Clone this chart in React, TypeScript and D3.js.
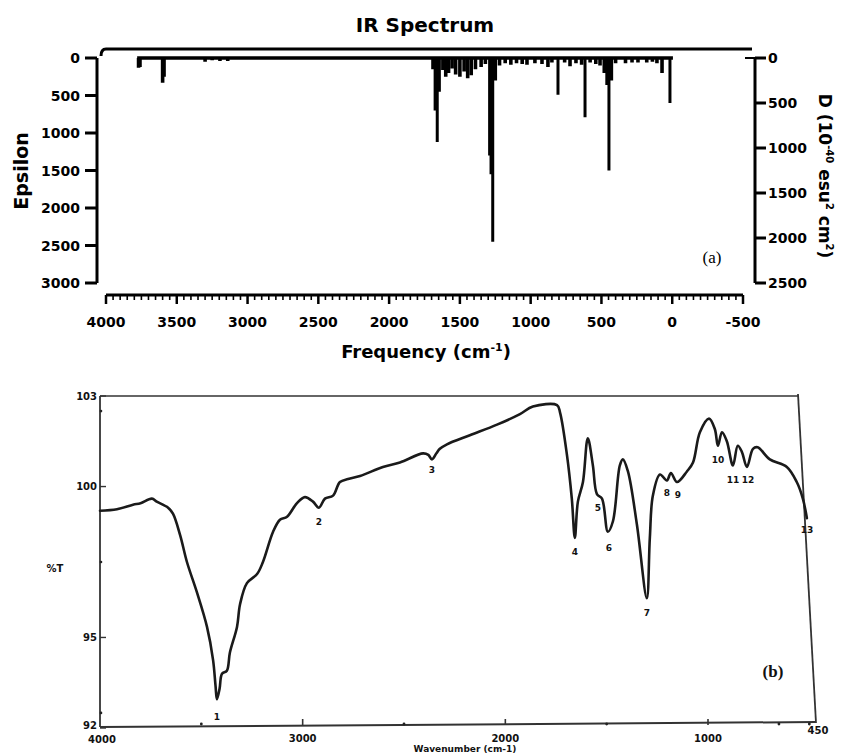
import React from "react";
import * as d3 from "d3";

// ---- (a) computed stick spectrum: frequency (cm-1) and epsilon ----
const stickFreq = [
  3770, 3760, 3600, 3590, 3300, 3250, 3195, 3140,
  1690, 1675, 1660, 1645, 1620, 1600, 1580, 1555, 1530, 1500, 1470, 1445, 1420, 1390, 1350, 1320,
  1290, 1280, 1268, 1250, 1220, 1180, 1140, 1100, 1060, 1026, 970, 920, 878, 850, 807, 760, 722,
  680, 640, 616, 580, 540, 510, 480, 460, 447, 430, 400, 330, 284, 242, 180, 140, 108, 72, 16,
];
const stickEps = [
  130, 120, 330, 250, 50, 30, 40, 40,
  150, 700, 1120, 450, 160, 250, 200, 140, 220, 250, 180, 270, 230, 150, 120, 80,
  1300, 1550, 2450, 300, 100, 70, 90, 70, 80, 90, 70, 80, 120, 60, 490, 60, 110,
  70, 90, 790, 60, 80, 100, 200, 360, 1500, 300, 70, 70, 60, 60, 60, 50, 70, 200, 600,
];
const freqTicks = [4000, 3500, 3000, 2500, 2000, 1500, 1000, 500, 0, -500];
const epsTicks = [0, 500, 1000, 1500, 2000, 2500, 3000];
const dTicks = [0, 500, 1000, 1500, 2000, 2500];

// ---- (b) measured transmittance: wavenumber (cm-1) and %T ----
const irWavenumber = [
  4000, 3916, 3837, 3800, 3744, 3720, 3664, 3640, 3605, 3571, 3522, 3472, 3442, 3430, 3423, 3410,
  3398, 3374, 3359, 3324, 3309, 3275, 3225, 3196, 3146, 3112, 3077, 3028, 2989, 2949, 2920, 2890,
  2850, 2816, 2776, 2717, 2604, 2520, 2406, 2380, 2362, 2340, 2323, 2288, 2175, 2041, 1928, 1864,
  1745, 1730, 1696, 1672, 1657, 1642, 1617, 1593, 1568, 1548, 1523, 1494, 1469, 1435, 1420, 1395,
  1351, 1302, 1287, 1272, 1237, 1203, 1183, 1153, 1104, 1074, 1040, 995, 966, 951, 931, 907,
  877, 853, 833, 808, 778, 755, 695, 611, 562, 532, 512,
];
const irTransmittance = [
  99.2, 99.25, 99.4, 99.45, 99.6, 99.5, 99.3, 99.1, 98.4, 97.5, 96.5, 95.35, 94.25, 93.4, 92.95, 93.3,
  93.8, 93.9, 94.5, 95.35, 96.1, 96.8, 97.1, 97.5, 98.5, 98.9, 99.0, 99.45, 99.65, 99.5, 99.3, 99.6,
  99.7, 100.15, 100.25, 100.35, 100.65, 100.8, 101.1, 101.05, 100.9, 101.1, 101.25, 101.4, 101.7, 102.05, 102.4, 102.65,
  102.7, 102.45, 101.05, 99.6, 98.3, 99.5, 100.15, 101.6, 100.7, 99.75, 99.6, 98.5, 98.85, 100.7, 100.9, 100.5,
  98.75, 96.3, 98.3, 99.7, 100.4, 100.2, 100.45, 100.15, 100.5, 100.8, 101.8, 102.25, 101.9, 101.35, 101.8, 101.5,
  100.7, 101.35, 101.15, 100.65, 101.25, 101.3, 100.9, 100.65, 100.15, 99.6, 98.95,
];
// numbered band labels (placed below each band)
const bandNumbers = ["1", "2", "3", "4", "5", "6", "7", "8", "9", "10", "11", "12", "13"];
const bandWavenumber = [3423, 2920, 2362, 1657, 1543, 1489, 1301, 1203, 1149, 951, 877, 803, 512];
const bandLabelT = [92.36, 98.84, 100.56, 97.85, 99.3, 97.98, 95.83, 99.8, 99.73, 100.89, 100.22, 100.22, 98.57];
const wnTicks = [3000, 2000, 1000];
const wnMinor = [3500, 2500, 1500, 650, 500];
const tTicks = [103, 100, 95, 92];
const tMinor = [102.5, 97.5, 92.5];

const SANS = "'DejaVu Sans', Verdana, sans-serif";

function TopPanel() {
  const x = d3.scaleLinear().domain([4000, -500]).range([106, 743]);
  const yEps = d3.scaleLinear().domain([0, 3000]).range([58, 283]);
  const yD = d3.scaleLinear().domain([0, 2500]).range([58, 283]);
  const minor = d3.range(4000, -501, -50);
  const axisY = 295;
  const leftX = 97;
  const rightX = 755;
  return (
    <g fontFamily={SANS} fontWeight="bold" fill="#000">
      <text x={425} y={32} textAnchor="middle" fontSize={20}>IR Spectrum</text>
      {/* frame top */}
      <path d={`M101,56 Q101,49 106,49 L752,49`} fill="none" stroke="#000" strokeWidth={3} />
      {/* zero baseline of the stick spectrum */}
      <line x1={x(3780)} x2={x(-5)} y1={yEps(0)} y2={yEps(0)} stroke="#000" strokeWidth={3.5} />
      {stickFreq.map((f, i) => (
        <line key={i} x1={x(f)} x2={x(f)} y1={yEps(0)} y2={yEps(stickEps[i])}
          stroke="#000" strokeWidth={stickEps[i] > 400 ? 3 : 3.6} />
      ))}
      {/* left axis */}
      <line x1={leftX} x2={leftX} y1={yEps(0)} y2={yEps(3000)} stroke="#000" strokeWidth={3} />
      {epsTicks.map((t) => (
        <g key={t}>
          <line x1={leftX - 12} x2={leftX} y1={yEps(t)} y2={yEps(t)} stroke="#000" strokeWidth={3} />
          <text x={80} y={yEps(t)} dy="0.36em" textAnchor="end" fontSize={14}>{t}</text>
        </g>
      ))}
      {/* right axis */}
      <line x1={rightX} x2={rightX} y1={yD(0)} y2={yD(2500)} stroke="#000" strokeWidth={3} />
      <line x1={745} x2={rightX} y1={yD(0)} y2={yD(0)} stroke="#000" strokeWidth={2} />
      {dTicks.map((t) => (
        <g key={t}>
          <line x1={rightX} x2={rightX + 11} y1={yD(t)} y2={yD(t)} stroke="#000" strokeWidth={3} />
          <text x={rightX + 13} y={yD(t)} dy="0.36em" textAnchor="start" fontSize={14}>{t}</text>
        </g>
      ))}
      {/* bottom axis */}
      <line x1={x(4000)} x2={x(-500)} y1={axisY} y2={axisY} stroke="#000" strokeWidth={3} />
      {minor.map((m) => (
        <line key={m} x1={x(m)} x2={x(m)} y1={axisY} y2={axisY + (m % 500 === 0 ? 9 : 5)}
          stroke="#000" strokeWidth={m % 500 === 0 ? 2.5 : 1.6} />
      ))}
      {freqTicks.map((t) => (
        <text key={t} x={x(t)} y={322} dy="0.36em" textAnchor="middle" fontSize={14}>{t}</text>
      ))}
      <text x={426} y={358} textAnchor="middle" fontSize={18}>
        Frequency (cm<tspan dy={-7} fontSize={11}>-1</tspan><tspan dy={7}>)</tspan>
      </text>
      <text transform="translate(28,171) rotate(-90)" textAnchor="middle" fontSize={19}>Epsilon</text>
      <text transform="translate(819,176) rotate(90)" textAnchor="middle" fontSize={17}>
        D (10<tspan dy={-7} fontSize={10}>-40</tspan>
        <tspan dy={7}> esu</tspan><tspan dy={-7} fontSize={10}>2</tspan>
        <tspan dy={7}> cm</tspan><tspan dy={-7} fontSize={10}>2</tspan><tspan dy={7}>)</tspan>
      </text>
      <text x={712} y={263} textAnchor="middle" fontSize={17} fontWeight="normal"
        fontFamily="'Liberation Serif', 'Times New Roman', serif">(a)</text>
    </g>
  );
}

function BottomPanel() {
  const x = d3.scaleLinear().domain([4000, 1000]).range([100, 708]);
  const y = d3.scaleLinear().domain([92, 103]).range([728, 396]);
  const pts = irWavenumber.map((w, i) => [x(w), y(irTransmittance[i])] as [number, number]);
  const path = d3.line().curve(d3.curveCatmullRom.alpha(0.5))(pts) ?? "";
  const left = 100;
  const top = y(103);
  const bottom = 727;
  const ink = "#1a1a1a";
  return (
    <g fontFamily={SANS} fontWeight="bold" fill="#111">
      {/* frame */}
      <line x1={left} x2={798} y1={top} y2={top} stroke="#333" strokeWidth={1.6} />
      <line x1={798} x2={816} y1={top - 2} y2={bottom - 4} stroke="#333" strokeWidth={1.8} />
      <line x1={left} x2={left} y1={top} y2={bottom} stroke="#333" strokeWidth={1.8} />
      <line x1={left} x2={816} y1={bottom} y2={bottom - 5} stroke="#333" strokeWidth={2} />
      {tTicks.map((t) => (
        <g key={t}>
          <line x1={left} x2={left + 6} y1={y(t)} y2={y(t)} stroke="#333" strokeWidth={1.4} />
          <text x={left - 3} y={t === 92 ? y(t) - 3 : y(t)} dy="0.36em" textAnchor="end" fontSize={10}>{t}</text>
        </g>
      ))}
      {tMinor.map((t) => (
        <circle key={t} cx={left + 1} cy={y(t)} r={1.3} fill="#222" />
      ))}
      {wnTicks.map((w) => (
        <g key={w}>
          <line x1={x(w)} x2={x(w)} y1={bottom - 8} y2={bottom - 2} stroke="#333" strokeWidth={1.6} />
          <text x={x(w)} y={738} dy="0.36em" textAnchor="middle" fontSize={10}>{w}</text>
        </g>
      ))}
      {wnMinor.map((w) => (
        <circle key={w} cx={x(w)} cy={bottom - 3} r={1.4} fill="#222" />
      ))}
      <text x={x(4000) + 2} y={739} dy="0.36em" textAnchor="middle" fontSize={10}>4000</text>
      <text x={818} y={730} dy="0.36em" textAnchor="middle" fontSize={10}>450</text>
      <text x={55} y={568} dy="0.36em" textAnchor="middle" fontSize={10}>%T</text>
      <text x={465} y={749} dy="0.36em" textAnchor="middle" fontSize={9}>Wavenumber (cm-1)</text>
      {/* spectrum trace */}
      <path d={path} fill="none" stroke={ink} strokeWidth={2.6} strokeLinejoin="round" strokeLinecap="round" />
      {bandNumbers.map((n, i) => (
        <text key={n} x={x(bandWavenumber[i])} y={y(bandLabelT[i])} dy="0.36em" textAnchor="middle" fontSize={9}>{n}</text>
      ))}
      <text x={773} y={677} textAnchor="middle" fontSize={17} fontWeight="bold"
        fontFamily="'Liberation Serif', 'Times New Roman', serif">(b)</text>
    </g>
  );
}

export default function App() {
  return (
    <svg width={845} height={756} viewBox="0 0 845 756"
      style={{ position: "absolute", left: 0, top: 0, background: "#fff" }}>
      <rect width={845} height={756} fill="#fff" />
      <TopPanel />
      <BottomPanel />
    </svg>
  );
}
